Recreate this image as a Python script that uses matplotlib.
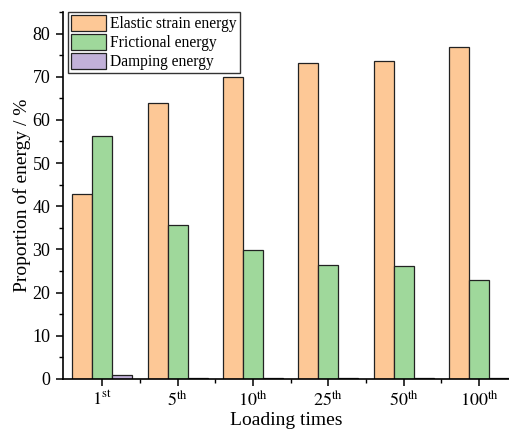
import numpy as np
import matplotlib.pyplot as plt
from matplotlib.ticker import MultipleLocator, FixedLocator

plt.rcParams["font.family"] = ["Liberation Serif", "DejaVu Serif"]
plt.rcParams["mathtext.fontset"] = "stix"

# ----------------------------------------------------------------------
# Energy partition per loading cycle (%)
# ----------------------------------------------------------------------
loading_times = ["1", "5", "10", "25", "50", "100"]
suffixes = ["st", "th", "th", "th", "th", "th"]
elastic = [42.9, 64.0, 70.0, 73.3, 73.7, 76.9]
frictional = [56.3, 35.7, 29.8, 26.4, 26.1, 23.0]
damping = [0.8, 0.3, 0.2, 0.2, 0.15, 0.1]

series = [
    ("Elastic strain energy", elastic, "#FDC896"),
    ("Frictional energy", frictional, "#9FD89B"),
    ("Damping energy", damping, "#C2B1D9"),
]

fig = plt.figure(figsize=(5.10, 4.29), dpi=100)
ax = fig.add_axes([0.1235, 0.117, 0.8765, 0.855])

x = np.arange(len(loading_times))
width = 0.265
for i, (label, vals, color) in enumerate(series):
    ax.bar(x + (i - 1) * width, vals, width, color=color, edgecolor="#222222",
           linewidth=0.9, label=label)

ax.set_xlim(-0.52, 5.41)
ax.set_ylim(0, 85)
ax.yaxis.set_major_locator(MultipleLocator(10))
ax.yaxis.set_minor_locator(MultipleLocator(5))
ax.set_xticks(x)
ax.set_xticklabels([f"${n}^{{\\mathrm{{{s}}}}}$" for n, s in zip(loading_times, suffixes)])
ax.xaxis.set_minor_locator(FixedLocator(x[:-1] + 0.5))

for side in ("top", "right"):
    ax.spines[side].set_visible(False)
for side in ("left", "bottom"):
    ax.spines[side].set_linewidth(1.2)
ax.tick_params(which="major", direction="out", length=5, width=1.1, labelsize=13)
ax.tick_params(axis="y", which="major", pad=4)
ax.tick_params(which="minor", direction="out", length=3, width=1.0)

ax.set_xlabel("Loading times", fontsize=14, labelpad=1)
ax.set_ylabel("Proportion of energy / %", fontsize=14, labelpad=1)

leg = ax.legend(loc="upper left", bbox_to_anchor=(0.012, 1.0), fontsize=11.2,
                frameon=True, fancybox=False, edgecolor="black",
                handlelength=2.2, handleheight=1.15, handletextpad=0.3,
                borderpad=0.2, labelspacing=0.13, borderaxespad=0.0)
leg.get_frame().set_linewidth(1.0)

plt.savefig("out.png", dpi=100)
